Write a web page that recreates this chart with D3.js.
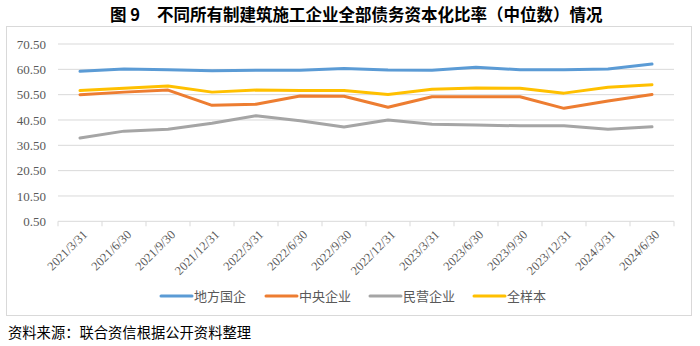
<!DOCTYPE html>
<html><head><meta charset="utf-8">
<script src="https://cdn.jsdelivr.net/npm/d3@7"></script>
<style>
body{margin:0;background:#fff;}
svg{display:block;}
</style></head>
<body>
<svg id="c" width="700" height="346"></svg>
<script>
const categories = ["2021/3/31","2021/6/30","2021/9/30","2021/12/31","2022/3/31","2022/6/30","2022/9/30","2022/12/31","2023/3/31","2023/6/30","2023/9/30","2023/12/31","2024/3/31","2024/6/30"];
const localSOE   = [59.7,60.6,60.35,59.95,60.1,60.1,60.8,60.2,60.1,61.3,60.35,60.35,60.6,62.6];
const centralSOE = [50.5,51.5,52.3,46.3,46.7,50.0,49.9,45.5,49.7,49.7,49.7,45.1,48.0,50.6];
const privateEnt = [33.4,36.1,36.8,39.2,42.2,40.2,37.7,40.5,38.8,38.5,38.2,38.2,36.8,37.8];
const allSample  = [52.1,53.0,53.9,51.5,52.3,52.1,52.1,50.6,52.6,53.1,53.0,51.1,53.4,54.4];
const yTicks = [0.5,10.5,20.5,30.5,40.5,50.5,60.5,70.5];
const seriesNames = ["地方国企","中央企业","民营企业","全样本"];
const seriesColors = ["#5B9BD5","#ED7D31","#A5A5A5","#FFC000"];
const seriesData = [localSOE, centralSOE, privateEnt, allSample];

(function(){
const svg = d3.select("#c");
const pl = 58, pr = 674, pt = 44, pb = 221.3;

svg.append("text").attr("x",110).attr("y",20.5)
  .attr("font-family","'Noto Sans CJK SC'").attr("font-weight","bold").attr("font-size",16.5)
  .attr("fill","#000").text("图 9");
svg.append("text").attr("x",157).attr("y",20.5)
  .attr("font-family","'Noto Sans CJK SC'").attr("font-weight","bold").attr("font-size",16.5)
  .attr("fill","#000").text("不同所有制建筑施工企业全部债务资本化比率（中位数）情况");

svg.append("rect").attr("x",6.5).attr("y",26.5).attr("width",685).attr("height",289)
  .attr("fill","#fff").attr("stroke","#d9d9d9").attr("stroke-width",1);

const x = d3.scaleBand().domain(categories).range([pl,pr]);
const y = d3.scaleLinear().domain([0.5,70.5]).range([pb,pt]);

svg.append("g").selectAll("line").data(yTicks.slice(1)).join("line")
  .attr("x1",pl).attr("x2",pr).attr("y1",d=>y(d)).attr("y2",d=>y(d))
  .attr("stroke","#d9d9d9").attr("stroke-width",1);

const yAxis = d3.axisLeft(y).tickValues(yTicks).tickFormat(d3.format(".2f")).tickSize(0).tickPadding(12);
const yg = svg.append("g").attr("transform",`translate(${pl},0)`).call(yAxis);
yg.select(".domain").remove();
yg.selectAll("text").attr("font-family","'Liberation Serif'").attr("font-size",13).attr("fill","#595959");

const xg = svg.append("g").attr("transform",`translate(0,${pb})`);
xg.append("line").attr("x1",pl).attr("x2",pr).attr("stroke","#d9d9d9");
const bounds = categories.map(c=>x(c)).concat([pr]);
xg.selectAll("line.tk").data(bounds).join("line").attr("class","tk")
  .attr("x1",d=>d).attr("x2",d=>d).attr("y1",0).attr("y2",5).attr("stroke","#d9d9d9");
xg.selectAll("text").data(categories).join("text")
  .attr("transform",d=>`translate(${x(d)+x.bandwidth()/2+5},${11}) rotate(-45)`)
  .attr("text-anchor","end").attr("dy","0.35em")
  .attr("font-family","'Liberation Serif'").attr("font-size",12.5).attr("fill","#595959")
  .text(d=>d);

const line = d3.line().x((d,i)=>x(categories[i])+x.bandwidth()/2).y(d=>y(d));
seriesData.forEach((s,k)=>{
  svg.append("path").datum(s).attr("d",line).attr("fill","none")
    .attr("stroke",seriesColors[k]).attr("stroke-width",3).attr("stroke-linejoin","round").attr("stroke-linecap","round");
});

const legX = [161,266,370,474];
const lg = svg.append("g").attr("transform","translate(0,296)");
seriesNames.forEach((n,k)=>{
  lg.append("line").attr("x1",legX[k]).attr("x2",legX[k]+31).attr("y1",0).attr("y2",0)
    .attr("stroke",seriesColors[k]).attr("stroke-width",3).attr("stroke-linecap","round");
  lg.append("text").attr("x",legX[k]+33).attr("y",0).attr("dy","0.35em")
    .attr("font-family","'Noto Sans CJK SC'").attr("font-size",13).attr("fill","#595959").text(n);
});

svg.append("text").attr("x",8).attr("y",338).attr("font-family","'Noto Sans CJK SC'")
  .attr("font-size",14.3).attr("fill","#000").text("资料来源：联合资信根据公开资料整理");
})();
</script>
</body></html>
